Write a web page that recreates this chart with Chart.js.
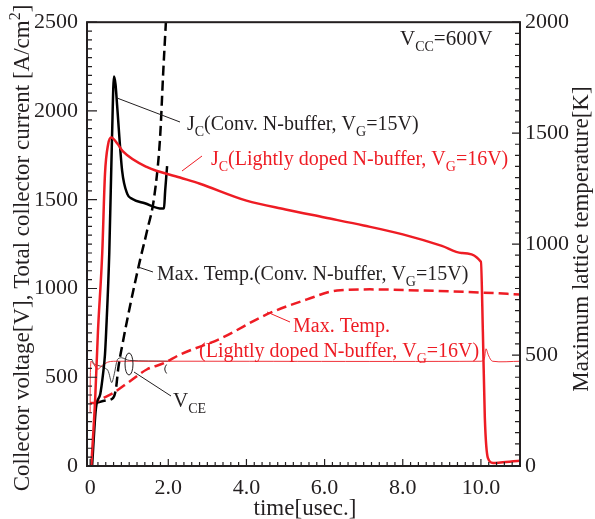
<!DOCTYPE html>
<html>
<head>
<meta charset="utf-8">
<script src="https://cdn.jsdelivr.net/npm/chart.js@4.4.0/dist/chart.umd.min.js"></script>
<style>
  html, body { margin: 0; padding: 0; background: #fff; }
  #wrap { width: 595px; height: 519px; }
</style>
</head>
<body>
<div id="wrap"><canvas id="chart" width="595" height="519"></canvas></div>
<script>
// tick labels
const xTicks = [0, 2, 4, 6, 8, 10];
const leftTicks = [0, 500, 1000, 1500, 2000, 2500];
const rightTicks = [0, 500, 1000, 1500, 2000];

// Jc, lightly doped N-buffer (A/cm2)
const jcLightT = [0.03, 0.13, 0.2, 0.31, 0.38, 0.46, 0.54, 0.7, 0.84, 1.46, 2.3, 2.81, 4.0, 5.0, 6.0, 7.0, 8.0, 9.0, 9.5, 10.0, 10.05, 10.1, 10.18, 10.31, 10.5, 11.0];
const jcLightV = [0, 383, 756, 1200, 1644, 1811, 1850, 1815, 1772, 1683, 1625, 1590, 1495, 1445, 1400, 1355, 1305, 1240, 1200, 1150, 756, 272, 44, 17, 20, 30];

// Jc, conventional N-buffer (A/cm2)
const jcConvT = [0.05, 0.15, 0.26, 0.33, 0.38, 0.41, 0.49, 0.56, 0.61, 0.65, 0.69, 0.82, 0.95, 1.07, 1.4, 1.84, 1.89, 1.92, 1.97];
const jcConvV = [0, 328, 406, 517, 628, 756, 1200, 1850, 2194, 2150, 2033, 1661, 1533, 1506, 1480, 1450, 1452, 1550, 1689];

// VCE (V)
const vceLightT = [0, 0.02, 0.1, 0.2, 0.3, 0.45, 0.6, 10.0, 10.08, 10.13, 10.2, 10.3, 11.0];
const vceLightV = [300, 590, 570, 545, 565, 585, 590, 590, 600, 660, 620, 590, 590];
const vceConvT = [0.05, 0.1, 0.3, 0.45, 0.55, 0.62, 0.7, 0.8, 1.0, 2.0];
const vceConvV = [600, 575, 560, 540, 470, 520, 600, 610, 595, 590];

// Max lattice temperature (K)
const tmpLightT = [0, 0.13, 0.2, 0.59, 1.02, 1.46, 1.87, 2.3, 3.32, 4.53, 5.55, 6.32, 7.16, 8.44, 9.97, 11.0];
const tmpLightV = [284, 284, 293, 329, 382, 436, 462, 502, 573, 684, 751, 791, 796, 791, 782, 773];
const tmpConvT = [0.15, 0.4, 0.59, 0.66, 0.72, 0.84, 1.02, 1.28, 1.46, 1.64, 1.79, 1.87, 1.94];
const tmpConvV = [284, 295, 307, 347, 440, 560, 720, 930, 1062, 1213, 1480, 1773, 2004];

const FONT = "'Liberation Serif', 'Times New Roman', serif";
const RED = '#ee1c24';
const INK = '#231f20';

const pts = (t, v) => t.map((x, i) => ({ x, y: v[i] }));

// text with sub/superscripts: parts = [[text, 'sub'|'sup'|'']]
function rich(ctx, x, y, parts, color, size, align) {
  ctx.save();
  ctx.fillStyle = color;
  ctx.textBaseline = 'alphabetic';
  ctx.textAlign = 'left';
  const small = Math.round(size * 0.68);
  const fontOf = k => `${k ? small : size}px ${FONT}`;
  let w = 0;
  parts.forEach(([t, k]) => { ctx.font = fontOf(k); w += ctx.measureText(t).width; });
  let cx = align === 'center' ? x - w / 2 : x;
  parts.forEach(([t, k]) => {
    ctx.font = fontOf(k);
    const dy = k === 'sub' ? size * 0.28 : k === 'sup' ? -size * 0.4 : 0;
    ctx.fillText(t, cx, y + dy);
    cx += ctx.measureText(t).width;
  });
  ctx.restore();
}

function line(ctx, x1, y1, x2, y2, color) {
  ctx.save();
  ctx.strokeStyle = color;
  ctx.lineWidth = 1;
  ctx.beginPath();
  ctx.moveTo(x1, y1);
  ctx.lineTo(x2, y2);
  ctx.stroke();
  ctx.restore();
}

const framePlugin = {
  id: 'frame',
  afterDraw(chart) {
    const { ctx, chartArea: a, scales } = chart;
    ctx.save();
    ctx.strokeStyle = INK;
    ctx.lineWidth = 1.2;
    ctx.beginPath();
    for (let v = 0; v <= 2500; v += 50) {
      const p = scales.y.getPixelForValue(v);
      ctx.moveTo(a.left, p);
      ctx.lineTo(a.left + (v % 500 === 0 ? 10 : 5), p);
    }
    for (let v = 0; v <= 2000; v += 50) {
      const p = scales.y1.getPixelForValue(v);
      ctx.moveTo(a.right, p);
      ctx.lineTo(a.right - (v % 500 === 0 ? 8 : 5), p);
    }
    for (let i = 0; i <= 55; i++) {
      const v = i * 0.2;
      const p = scales.x.getPixelForValue(v);
      ctx.moveTo(p, a.bottom);
      ctx.lineTo(p, a.bottom - (i % 10 === 0 ? 7 : 4));
    }
    ctx.stroke();
    ctx.lineWidth = 2;
    ctx.strokeRect(a.left, a.top, a.right - a.left, a.bottom - a.top);
    ctx.restore();

    // axis titles
    ctx.save();
    ctx.translate(21, 248);
    ctx.rotate(-Math.PI / 2);
    rich(ctx, 0, 8, [['Collector voltage[V], Total collector current [A/cm', ''], ['2', 'sup'], [']', '']], INK, 23, 'center');
    ctx.restore();
    ctx.save();
    ctx.translate(580, 239);
    ctx.rotate(-Math.PI / 2);
    rich(ctx, 0, 8, [['Maximum lattice temperature[K]', '']], INK, 23, 'center');
    ctx.restore();
    rich(ctx, 305, 515, [['time[usec.]', '']], INK, 23, 'center');

    // annotations
    rich(ctx, 400, 45, [['V', ''], ['CC', 'sub'], ['=600V', '']], INK, 21);
    line(ctx, 117, 98, 180, 122, INK);
    rich(ctx, 187, 130, [['J', ''], ['C', 'sub'], ['(Conv. N-buffer, V', ''], ['G', 'sub'], ['=15V)', '']], INK, 20);
    line(ctx, 182, 171, 202, 156, RED);
    rich(ctx, 211, 165, [['J', ''], ['C', 'sub'], ['(Lightly doped N-buffer, V', ''], ['G', 'sub'], ['=16V)', '']], RED, 20);
    line(ctx, 138, 267, 153, 272, INK);
    rich(ctx, 157, 280, [['Max. Temp.(Conv. N-buffer, V', ''], ['G', 'sub'], ['=15V)', '']], INK, 20);
    line(ctx, 267, 312, 290, 322, RED);
    rich(ctx, 293, 332, [['Max. Temp.', '']], RED, 20);
    rich(ctx, 199, 357, [['(Lightly doped N-buffer, V', ''], ['G', 'sub'], ['=16V)', '']], RED, 20);

    ctx.save();
    ctx.strokeStyle = INK;
    ctx.lineWidth = 1;
    ctx.beginPath();
    ctx.ellipse(129, 364, 4, 11, 0, 0, Math.PI * 2);
    ctx.stroke();
    ctx.beginPath();
    ctx.arc(172, 369, 7, Math.PI * 0.78, Math.PI * 1.22);
    ctx.stroke();
    ctx.restore();
    line(ctx, 134, 372, 171, 396, INK);
    rich(ctx, 173, 407, [['V', ''], ['CE', 'sub']], INK, 21);
  }
};

const axisFont = { family: FONT, size: 22 };

new Chart(document.getElementById('chart'), {
  type: 'line',
  data: {
    datasets: [
      { data: pts(jcLightT, jcLightV), yAxisID: 'y', borderColor: RED, borderWidth: 2.5, cubicInterpolationMode: 'monotone' },
      { data: pts(jcConvT, jcConvV), yAxisID: 'y', borderColor: '#000', borderWidth: 2.5, cubicInterpolationMode: 'monotone' },
      { data: pts(tmpLightT, tmpLightV), yAxisID: 'y1', borderColor: RED, borderWidth: 2.5, borderDash: [10, 5], cubicInterpolationMode: 'monotone' },
      { data: pts(tmpConvT, tmpConvV), yAxisID: 'y1', borderColor: '#000', borderWidth: 2.5, borderDash: [10, 5], cubicInterpolationMode: 'monotone' },
      { data: pts(vceLightT, vceLightV), yAxisID: 'y', borderColor: RED, borderWidth: 0.9, tension: 0.3 },
      { data: pts(vceConvT, vceConvV), yAxisID: 'y', borderColor: '#333', borderWidth: 0.9, tension: 0.3 }
    ]
  },
  options: {
    responsive: false,
    animation: false,
    events: [],
    layout: { padding: { top: 15, left: 0, right: 0, bottom: 0 } },
    elements: { point: { radius: 0 }, line: { fill: false } },
    plugins: { legend: { display: false }, tooltip: { enabled: false } },
    scales: {
      x: {
        type: 'linear', min: -0.08, max: 11,
        grid: { display: false, drawTicks: false }, border: { display: false },
        afterBuildTicks: s => { s.ticks = xTicks.map(v => ({ value: v })); },
        afterFit: s => { s.height = 53; },
        ticks: { font: axisFont, color: INK, padding: 9, maxRotation: 0, autoSkip: false,
          callback: v => v === 0 ? '0' : v.toFixed(1) }
      },
      y: {
        position: 'left', min: 0, max: 2500,
        grid: { display: false, drawTicks: false }, border: { display: false },
        afterBuildTicks: s => { s.ticks = leftTicks.map(v => ({ value: v })); },
        afterFit: s => { s.width = 87; },
        ticks: { font: axisFont, color: INK, padding: 9, callback: v => String(v) }
      },
      y1: {
        position: 'right', min: 0, max: 2000,
        grid: { display: false, drawTicks: false }, border: { display: false },
        afterBuildTicks: s => { s.ticks = rightTicks.map(v => ({ value: v })); },
        afterFit: s => { s.width = 75; },
        ticks: { font: axisFont, color: INK, padding: 5, callback: v => String(v) }
      }
    }
  },
  plugins: [framePlugin]
});
</script>
</body>
</html>
